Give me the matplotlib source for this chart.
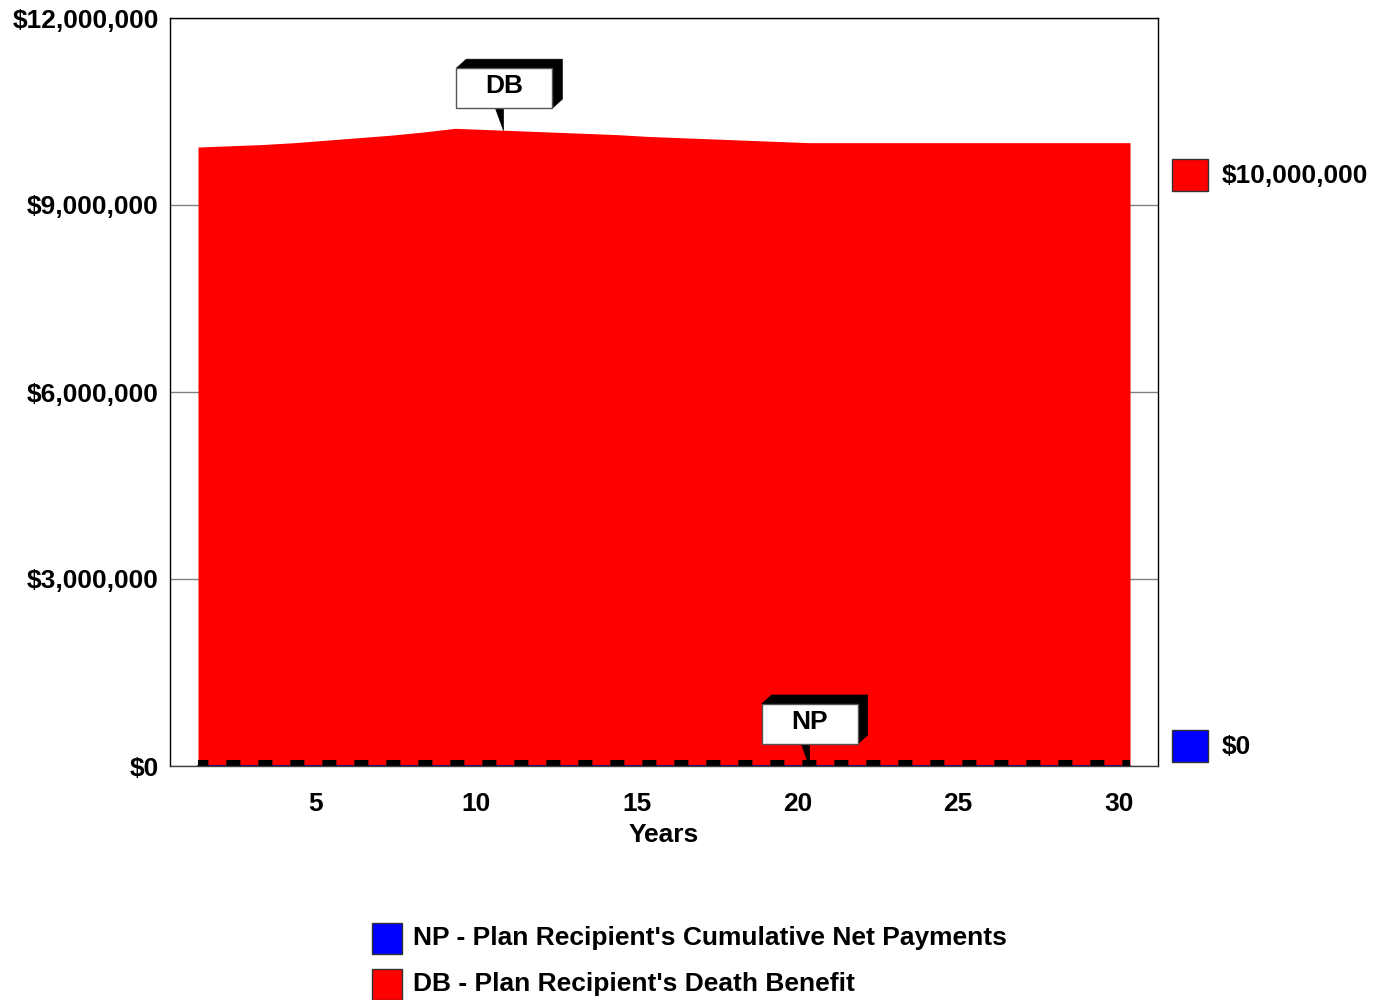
import matplotlib
matplotlib.use("Agg")
import matplotlib.pyplot as plt
import matplotlib.transforms as mtransforms
from matplotlib.patches import Rectangle, Polygon
import numpy as np

plt.rcParams['font.family'] = ['Liberation Sans', 'DejaVu Sans']
plt.rcParams['font.weight'] = 'bold'

# data
years = np.arange(1, 31)
db = np.array([9.93, 9.95, 9.97, 10.00, 10.04, 10.08, 10.12, 10.17, 10.23, 10.21,
               10.19, 10.17, 10.15, 10.13, 10.10, 10.08, 10.06, 10.04, 10.02, 10.00,
               10.00, 10.00, 10.00, 10.00, 10.00, 10.00, 10.00, 10.00, 10.00, 10.00]) * 1e6
np_pay = np.zeros(30)
yticks = [0, 3e6, 6e6, 9e6, 12e6]
ytick_labels = ['$0', '$3,000,000', '$6,000,000', '$9,000,000', '$12,000,000']
xtick_years = [5, 10, 15, 20, 25, 30]
legend_labels = ["NP - Plan Recipient's Cumulative Net Payments",
                 "DB - Plan Recipient's Death Benefit"]
end_labels = ['$10,000,000', '$0']

W, H = 1388, 1000
FS = 19
fig = plt.figure(figsize=(W / 100, H / 100), dpi=100)
ax = fig.add_axes([170 / W, 1 - 766 / H, 988 / W, 748 / H])

ax.fill_between(years, 0, db, color='#ff0000', lw=0, zorder=2)
ax.plot(years, np_pay, color='#000080', lw=1.2, zorder=3)

# dashed NP line sitting on the bottom
up = mtransforms.offset_copy(ax.transData, fig=fig, x=0, y=3, units='dots')
ln, = ax.plot(years, np_pay, color='black', lw=6 * 0.72, transform=up,
              solid_capstyle='butt', dash_capstyle='butt', zorder=4, clip_on=False)
ln.set_linestyle((0.6, (14 / 6, 18 / 6)))

ax.set_xlim(0.129, 30.87)
ax.set_ylim(0, 12e6)
ax.set_yticks(yticks)
ax.set_yticklabels(ytick_labels)
ax.set_xticks([y - 0.35 for y in xtick_years])
ax.set_xticklabels([str(y) for y in xtick_years])
ax.tick_params(axis='y', length=0, pad=8, labelsize=FS)
ax.tick_params(axis='x', length=0, pad=18.5, labelsize=FS)
ax.set_xlabel('Years', fontsize=FS, fontweight='bold', labelpad=5.5)
ax.grid(axis='y', color='#808080', lw=1, zorder=1)
ax.set_axisbelow(True)
for s in ax.spines.values():
    s.set_color('black')
    s.set_linewidth(1)
    s.set_zorder(5)
ax.spines['bottom'].set_color('#404040')


def callout(x, y, text):
    tr = fig.dpi_scale_trans + mtransforms.ScaledTranslation(x, y, ax.transData)
    l, r, b, t = -0.47, 0.49, 0.22, 0.62
    dx, dy = 0.10, 0.09
    shadow = Polygon([(l, t), (l + dx, t + dy), (r + dx, t + dy), (r + dx, b + dy),
                      (r, b), (r, t)], closed=True, fc='black', ec='black', lw=0.5,
                     transform=tr, clip_on=False, zorder=6)
    box = Rectangle((l, b), r - l, t - b, fc='white', ec='#555555', lw=1,
                    transform=tr, clip_on=False, zorder=7)
    ptr = Polygon([(-0.08, b), (0, b), (0, 0)], closed=True, fc='black', ec='black',
                  lw=0.5, transform=tr, clip_on=False, zorder=6)
    for p in (shadow, ptr, box):
        ax.add_patch(p)
    ax.text((l + r) / 2, (b + t) / 2 + 0.02, text, transform=tr, ha='center', va='center',
            fontsize=FS, fontweight='bold', zorder=8)


callout(10.5, np.interp(10.5, years, db), 'DB')
callout(years[19], np_pay[19], 'NP')

# end-value labels right of the plot
for val, txt, col, off in [(db[-1], end_labels[0], '#ff0000', -32),
                           (np_pay[-1], end_labels[1], '#0000ff', 20)]:
    ypix = ax.transData.transform((0, val))[1] + off
    fy = ypix / H
    fig.add_artist(Rectangle((1172 / W, fy - 16 / H), 36 / W, 32 / H, fc=col,
                             ec='#333333', lw=1, transform=fig.transFigure))
    fig.text(1222 / W, fy - 1 / H, txt, fontsize=FS, fontweight='bold', va='center', ha='left')

# legend at the bottom
for i, (lab, col) in enumerate(zip(legend_labels, ['#0000ff', '#ff0000'])):
    cy = 1 - (938 + 46 * i) / H
    fig.add_artist(Rectangle((372 / W, cy - 15.5 / H), 30 / W, 31 / H, fc=col,
                             ec='#333333', lw=1, transform=fig.transFigure))
    fig.text(413 / W, cy, lab, fontsize=FS, fontweight='bold', va='center', ha='left')

fig.savefig('out.png', dpi=100)
